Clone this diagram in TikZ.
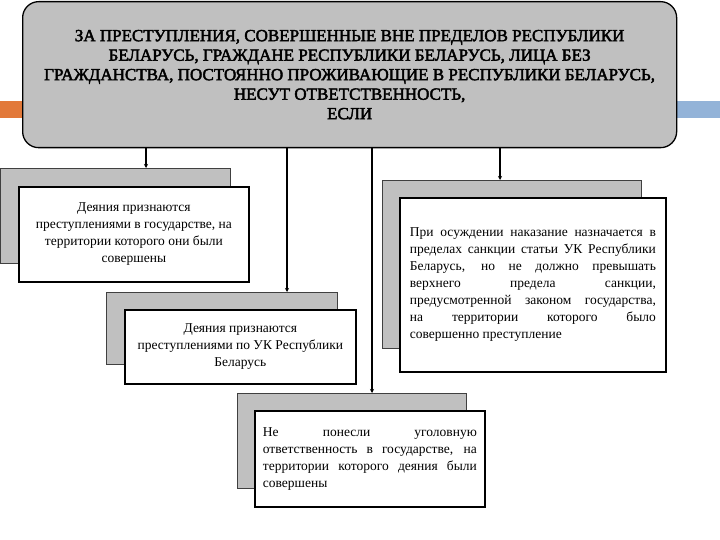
\documentclass[tikz,border=0pt]{standalone}
\usepackage{fontspec}
\setmainfont{Liberation Serif}
\newfontfamily\headfont{Liberation Serif}[FakeBold=2.5]
\usetikzlibrary{arrows.meta}
\definecolor{shadegray}{HTML}{C0C0C0}
\definecolor{decoorange}{HTML}{E2793A}
\definecolor{decoblue}{HTML}{93B3D8}
\begin{document}
\begin{tikzpicture}[x=1pt,y=-1pt,
  topbox/.style={draw=black, line width=1.3pt, fill=shadegray, rounded corners=16pt,
    inner sep=0pt, anchor=north west, align=center,
    font=\headfont\fontsize{17}{19.5}\selectfont},
  backbox/.style={draw=black!75, line width=0.7pt, fill=shadegray, inner sep=0pt, anchor=north west},
  frontbox/.style={draw=black, line width=1.8pt, fill=white, inner sep=0pt, anchor=north west,
    font=\fontsize{13.5}{17}\selectfont},
  conn/.style={line width=1.2pt, -{Stealth[length=4pt,width=4pt]}},
  decobar/.style={inner sep=0pt, minimum height=17pt, anchor=north west}
]
\useasboundingbox (0,0) rectangle (720,540);
% decorative bars
\node[decobar, fill=decoorange, minimum width=24pt] (barL) at (0,101) {};
\node[decobar, fill=decoblue, minimum width=46pt] (barR) at (674,101) {};
% top box
\node[topbox, minimum width=654pt, minimum height=146pt] (top) at (22,1)
  {ЗА ПРЕСТУПЛЕНИЯ, СОВЕРШЕННЫЕ ВНЕ ПРЕДЕЛОВ РЕСПУБЛИКИ\\
   БЕЛАРУСЬ, ГРАЖДАНЕ РЕСПУБЛИКИ БЕЛАРУСЬ, ЛИЦА БЕЗ\\
   ГРАЖДАНСТВА, ПОСТОЯННО ПРОЖИВАЮЩИЕ В РЕСПУБЛИКИ БЕЛАРУСЬ,\\
   НЕСУТ ОТВЕТСТВЕННОСТЬ,\\
   ЕСЛИ};
% box 1
\node[backbox, minimum width=230pt, minimum height=95pt] (sh1) at (0,168) {};
\node[frontbox, minimum width=230pt, minimum height=95pt, align=center] (b1) at (18,186)
  {Деяния признаются\\ преступлениями в государстве, на\\ территории которого они были\\ совершены};
% box 2
\node[backbox, minimum width=231pt, minimum height=72pt] (sh2) at (106,292) {};
\node[frontbox, minimum width=231pt, minimum height=74pt, align=center] (b2) at (124,309)
  {Деяния признаются\\ преступлениями по УК Республики\\ Беларусь};
% box 3
\node[backbox, minimum width=259pt, minimum height=168pt] (sh3) at (382,180) {};
\node[frontbox, minimum width=266pt, minimum height=174pt] (b3) at (399,197)
  {\parbox{246pt}{\fontsize{13.5}{17}\selectfont\setlength{\parindent}{0pt}%
   При осуждении наказание назначается в\linebreak
   пределах санкции статьи УК Республики\linebreak
   Беларусь, но не должно превышать\linebreak
   верхнего предела санкции,\linebreak
   предусмотренной законом государства,\linebreak
   на территории которого было\linebreak
   совершенно преступление\par}};
% box 4
\node[backbox, minimum width=229pt, minimum height=95pt] (sh4) at (237,393) {};
\node[frontbox, minimum width=230pt, minimum height=96pt] (b4) at (254,410)
  {\parbox{214pt}{\fontsize{13.5}{17}\selectfont\setlength{\parindent}{0pt}%
   Не понесли уголовную\linebreak
   ответственность в государстве, на\linebreak
   территории которого деяния были\linebreak
   совершены\par}};
% connectors
\draw[conn] (top.south -| 146,0) -- (sh1.north -| 146,0);
\draw[conn] (top.south -| 287,0) -- (sh2.north -| 287,0);
\draw[conn] (top.south -| 372,0) -- (sh4.north -| 372,0);
\draw[conn] (top.south -| 500,0) -- (sh3.north -| 500,0);
\end{tikzpicture}
\end{document}
